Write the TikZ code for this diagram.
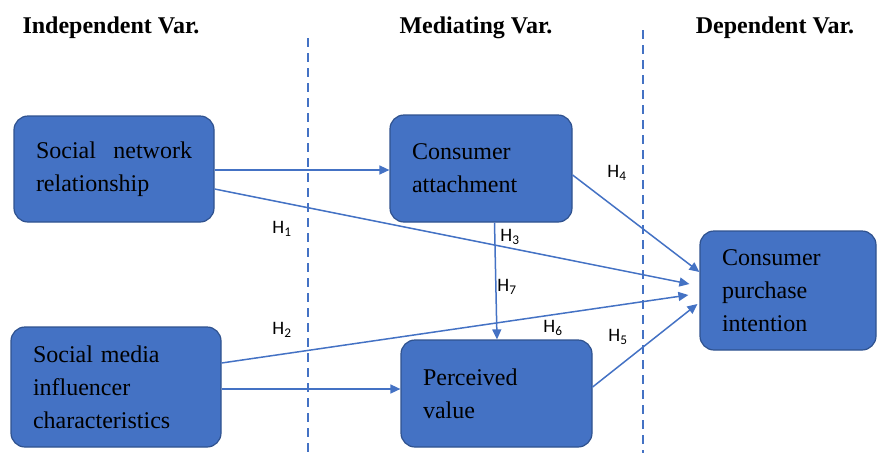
\documentclass[tikz,border=0pt]{standalone}
\usepackage{fontspec}
\setmainfont{Liberation Serif}
\newfontfamily\hypfont{Carlito}
\usetikzlibrary{arrows.meta}
\definecolor{boxblue}{HTML}{4472C4}
\definecolor{boxedge}{HTML}{2F528F}
\begin{document}
\begin{tikzpicture}[x=1pt,y=1pt,
  varbox/.style={draw=boxedge, line width=1.2pt, fill=boxblue, rounded corners=14pt,
    inner xsep=22pt, inner ysep=0pt, align=left, text=black,
    font=\fontsize{24}{33}\selectfont, anchor=center},
  link/.style={draw=boxblue, line width=1.5pt, -{Triangle[length=10pt,width=9pt]}},
  hyp/.style={font=\hypfont\fontsize{19}{19}\selectfont, text=black, inner sep=0pt},
  divider/.style={draw=boxblue, line width=1.5pt, dash pattern=on 9pt off 6pt},
  head/.style={font=\bfseries\fontsize{24}{24}\selectfont, anchor=base, inner sep=0pt}]

\useasboundingbox (0,0) rectangle (877,-453);

% column headings
\node[head] (hind) at (111,-33) {Independent Var.};
\node[head] (hmed) at (476,-33) {Mediating Var.};
\node[head] (hdep) at (775,-33) {Dependent Var.};

% column dividers
\draw[divider] (308,-38) -- (308,-453);
\draw[divider] (643,-30) -- (643,-453);

% variables
\node[varbox, minimum width=200pt, minimum height=106pt, text width=156pt] (snr) at (114,-169)
  {\makebox[156pt][l]{Social\hfill network}\\relationship};
\node[varbox, minimum width=210pt, minimum height=120pt, text width=166pt] (smic) at (116,-387)
  {Social media\\influencer\\characteristics};
\node[varbox, minimum width=182pt, minimum height=107pt, text width=138pt] (ca) at (481,-168.5)
  {Consumer\\attachment};
\node[varbox, minimum width=191pt, minimum height=107pt, text width=147pt] (pv) at (496.5,-393.5)
  {Perceived\\value};
\node[varbox, minimum width=176pt, minimum height=119pt, text width=132pt] (cpi) at (788,-290.5)
  {Consumer\\purchase\\intention};

% hypothesised paths
\draw[link] ([yshift=-1pt]snr.east) -- ([yshift=-1pt]snr.east -| ca.west);
\draw[link] ([yshift=-20pt]snr.east) -- ([xshift=-10pt,yshift=6.5pt]cpi.west);
\draw[link] ([yshift=24pt]smic.east) -- ([xshift=-11pt,yshift=-4.5pt]cpi.west);
\draw[link] ([yshift=-2pt]smic.east) -- ([yshift=-2pt]smic.east -| pv.west);
\draw[link] ([xshift=13.5pt]ca.south) -- ([xshift=0.5pt]pv.north);
\draw[link] ([yshift=-6.5pt]ca.east) -- ([yshift=18.5pt]cpi.west);
\draw[link] ([yshift=6.5pt]pv.east) -- ([xshift=-2pt,yshift=-13.5pt]cpi.west);

% path labels
\node[hyp] (h1) at (282,-229) {H\textsubscript{1}};
\node[hyp] (h2) at (282,-330) {H\textsubscript{2}};
\node[hyp] (h3) at (510,-237) {H\textsubscript{3}};
\node[hyp] (h4) at (617,-173) {H\textsubscript{4}};
\node[hyp] (h5) at (618,-337) {H\textsubscript{5}};
\node[hyp] (h6) at (553,-328) {H\textsubscript{6}};
\node[hyp] (h7) at (507,-287) {H\textsubscript{7}};
\end{tikzpicture}
\end{document}
